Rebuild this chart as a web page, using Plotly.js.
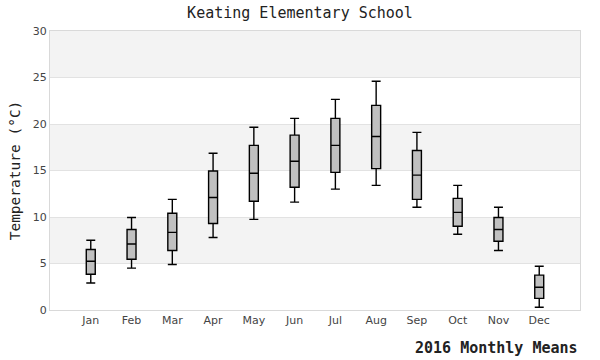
<!DOCTYPE html>
<html>
<head>
<meta charset="utf-8">
<script src="https://cdn.plot.ly/plotly-3.0.1.min.js"></script>
<style>html,body{margin:0;padding:0;background:#fff;}#chart{width:600px;height:360px;}</style>
</head>
<body>
<div id="chart"></div>
<script>
const months = ["Jan","Feb","Mar","Apr","May","Jun","Jul","Aug","Sep","Oct","Nov","Dec"];
const lowVals = [2.9, 4.5, 4.9, 7.8, 9.75, 11.6, 13.0, 13.4, 11.05, 8.15, 6.4, 0.3];
const q1Vals = [3.85, 5.45, 6.4, 9.3, 11.7, 13.2, 14.8, 15.2, 11.9, 9.0, 7.4, 1.25];
const medVals = [5.25, 7.1, 8.35, 12.1, 14.7, 16.0, 17.7, 18.65, 14.5, 10.5, 8.65, 2.45];
const q3Vals = [6.5, 8.65, 10.4, 14.95, 17.7, 18.8, 20.6, 22.0, 17.15, 12.0, 9.95, 3.75];
const highVals = [7.5, 9.95, 11.9, 16.85, 19.65, 20.6, 22.65, 24.6, 19.1, 13.4, 11.05, 4.7];
const yTicks = [0, 5, 10, 15, 20, 25, 30];
const bandStarts = [5, 15, 25];

const trace = {
  type: "box",
  x: months,
  q1: q1Vals,
  median: medVals,
  q3: q3Vals,
  lowerfence: lowVals,
  upperfence: highVals,
  width: 0.22,
  whiskerwidth: 1,
  fillcolor: "#c0c0c0",
  line: {color: "#000000", width: 1.4},
  boxpoints: false,
  hoverinfo: "skip",
  showlegend: false
};

const shapes = bandStarts.map(s => ({
  type: "rect", xref: "paper", yref: "y",
  x0: 0, x1: 1, y0: s, y1: s + 5,
  fillcolor: "#f3f3f3", line: {width: 0}, layer: "below"
}));

const layout = {
  width: 600, height: 360,
  margin: {l: 50, r: 20, t: 31, b: 50},
  paper_bgcolor: "#ffffff",
  plot_bgcolor: "#ffffff",
  title: {
    text: "Keating Elementary School",
    font: {family: "DejaVu Sans Mono, monospace", size: 15, color: "#222"},
    x: 0.5, xanchor: "center", y: 0.98, yanchor: "top"
  },
  xaxis: {
    type: "category",
    categoryarray: months,
    range: [-1, 12],
    showgrid: false,
    zeroline: false,
    showline: true, mirror: true, linecolor: "#d9d9d9", linewidth: 1,
    ticks: "",
    tickfont: {family: "DejaVu Sans, sans-serif", size: 11, color: "#444"},
    fixedrange: true
  },
  yaxis: {
    range: [0, 30],
    tickvals: yTicks,
    showgrid: true, gridcolor: "#e2e2e2", gridwidth: 1,
    zeroline: false,
    showline: true, mirror: true, linecolor: "#d9d9d9", linewidth: 1,
    ticks: "",
    tickfont: {family: "DejaVu Sans, sans-serif", size: 11, color: "#444"},
    title: {text: "Temperature (°C)", font: {family: "DejaVu Sans Mono, monospace", size: 14.5, color: "#222"}, standoff: 8},
    fixedrange: true
  },
  shapes: shapes,
  annotations: [{
    text: "<b>2016 Monthly Means</b>",
    xref: "paper", yref: "paper",
    x: 1.0, y: -0.136,
    xanchor: "right", yanchor: "middle",
    showarrow: false,
    font: {family: "DejaVu Sans Mono, monospace", size: 15, color: "#222"}
  }]
};

Plotly.newPlot("chart", [trace], layout, {displayModeBar: false, staticPlot: true});
</script>
</body>
</html>
